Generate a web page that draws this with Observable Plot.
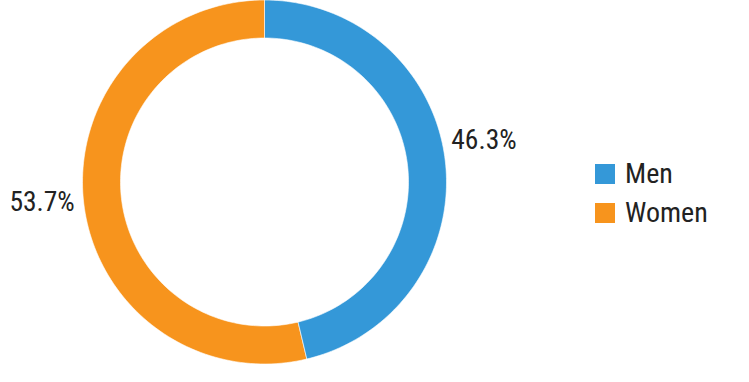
<!DOCTYPE html>
<html><head><meta charset="utf-8">
<script src="https://cdn.jsdelivr.net/npm/d3@7"></script>
<script src="https://cdn.jsdelivr.net/npm/@observablehq/plot@0.6"></script>
<style>
body{margin:0;background:#fff;}
#wrap{position:relative;width:749px;height:382px;overflow:hidden;}
#legend{position:absolute;left:595px;top:162px;width:150px;}
.lg-swatches{font-family:"Roboto Condensed","Liberation Sans Narrow","DejaVu Sans Condensed",sans-serif !important;font-size:28px !important;color:#222 !important;margin:0 !important;min-height:0 !important;}
.lg-swatch{padding-bottom:0 !important;margin-bottom:15px !important;line-height:24px;overflow:visible !important;}
.lg-swatch *{overflow:visible !important;text-overflow:clip !important;}
.lg-swatch svg{margin-right:10px !important;}
</style>
</head><body>
<div id="wrap"><div id="chart"></div><div id="legend"></div></div>
<script>
const categories = ["Men", "Women"];
const values = [46.3, 53.7];
const labels = ["46.3%", "53.7%"];
const colors = ["#3498d8", "#f7941d"];

const R_OUT = 182, R_IN = 144, R_LABEL = 188;
const total = d3.sum(values);
const ring = [];
const labelPts = [];
let start = 0;
categories.forEach((cat, i) => {
  const a0 = start / total * 2 * Math.PI;
  const a1 = (start + values[i]) / total * 2 * Math.PI;
  const n = 120;
  for (let k = 0; k <= n; k++) {
    const a = a0 + (a1 - a0) * k / n;
    ring.push({cat, x: R_OUT * Math.sin(a), y: R_OUT * Math.cos(a)});
  }
  for (let k = n; k >= 0; k--) {
    const a = a0 + (a1 - a0) * k / n;
    ring.push({cat, x: R_IN * Math.sin(a), y: R_IN * Math.cos(a)});
  }
  const am = (a0 + a1) / 2;
  labelPts.push({cat, text: labels[i], x: R_LABEL * Math.sin(am), y: R_LABEL * Math.cos(am)});
  start += values[i];
});

const font = '"Roboto Condensed","Liberation Sans Narrow","DejaVu Sans Condensed",sans-serif';
const W = 749, H = 382, CX = 264, CY = 181.5;
const chart = Plot.plot({
  width: W, height: H,
  margin: 0,
  style: {fontFamily: font, background: "white"},
  x: {domain: [-CX, W - CX], axis: null},
  y: {domain: [-(H - CY), CY], axis: null},
  color: {domain: categories, range: colors},
  marks: [
    Plot.line(ring, {x: "x", y: "y", z: "cat", fill: "cat", stroke: "white", strokeWidth: 0.6, curve: "linear-closed"}),
    Plot.text(labelPts.filter(d => d.cat === "Men"), {x: "x", y: "y", text: "text", textAnchor: "start", dy: -20, fontSize: 27.5, fill: "#222"}),
    Plot.text(labelPts.filter(d => d.cat === "Women"), {x: "x", y: "y", text: "text", textAnchor: "end", dx: -3, dy: -2, fontSize: 27.5, fill: "#222"})
  ]
});
document.getElementById("chart").appendChild(chart);
const leg = Plot.legend({color: {domain: categories, range: colors}, columns: 1, swatchSize: 20, className: "lg"});
document.getElementById("legend").appendChild(leg);
</script>
</body></html>
